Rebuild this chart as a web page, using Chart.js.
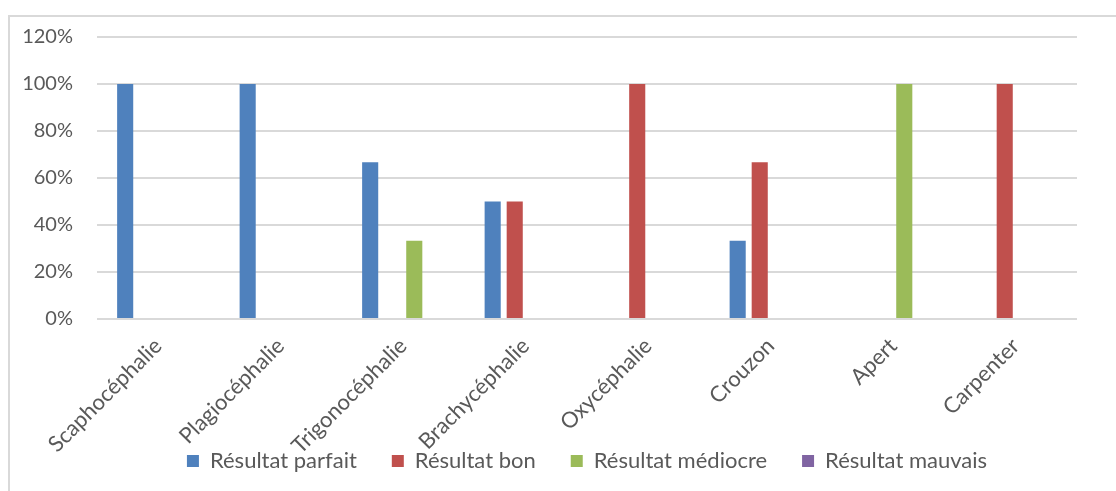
<!DOCTYPE html>
<html>
<head>
<meta charset="utf-8">
<script src="https://cdn.jsdelivr.net/npm/chart.js@4"></script>
<style>
    body { margin: 0; background: #fff; }
    #frame {
        position: absolute; left: 8px; top: 15px; width: 1200px; height: 600px;
        border: 2px solid #d9d9d9; box-sizing: border-box;
    }
    #wrap { position: absolute; left: 0; top: 0; width: 1116px; height: 491px; }
</style>
</head>
<body>
<div id="frame"></div>
<div id="wrap"><canvas id="chart"></canvas></div>
<script>
const categories = ["Scaphocéphalie", "Plagiocéphalie", "Trigonocéphalie", "Brachycéphalie",
    "Oxycéphalie", "Crouzon", "Apert", "Carpenter"];
const parfait  = [100, 100, 66.7, 50, 0, 33.3, 0, 0];
const bon      = [0, 0, 0, 50, 100, 66.7, 0, 100];
const mediocre = [0, 0, 33.3, 0, 0, 0, 100, 0];
const mauvais  = [0, 0, 0, 0, 0, 0, 0, 0];
const seriesNames = ["Résultat parfait", "Résultat bon", "Résultat médiocre", "Résultat mauvais"];
const seriesColors = ["#4f81bd", "#c0504d", "#9bbb59", "#8064a2"];

const FONT = "Lato";
const TEXT = "#595959";

const datasets = [parfait, bon, mediocre, mauvais].map((values, i) => ({
    label: seriesNames[i],
    data: values,
    backgroundColor: seriesColors[i],
    borderWidth: 0,
    barPercentage: 0.73,
    categoryPercentage: 0.72
}));

// the x labels run under the legend, as in the original: don't clip them to the axis box
const unclipLabels = {
    id: "unclipLabels",
    afterLayout(chart) {
        chart.scales.x.bottom = chart.height;
    }
};

new Chart(document.getElementById("chart").getContext("2d"), {
    type: "bar",
    data: { labels: categories, datasets },
    plugins: [unclipLabels],
    options: {
        responsive: true,
        maintainAspectRatio: false,
        animation: false,
        layout: { padding: { top: 37, right: 39, left: 0, bottom: 9 } },
        plugins: {
            tooltip: { enabled: false },
            legend: {
                position: "bottom",
                fullSize: false,
                labels: {
                    boxWidth: 12,
                    boxHeight: 12,
                    padding: 35,
                    color: TEXT,
                    font: { family: FONT, size: 22 }
                }
            }
        },
        scales: {
            x: {
                grid: { display: false, drawTicks: false },
                border: { display: false },
                ticks: {
                    color: TEXT,
                    font: { family: FONT, size: 22 },
                    maxRotation: 45,
                    minRotation: 45,
                    autoSkip: false,
                    padding: 14
                },
                afterFit: scale => { scale.height = 96; }
            },
            y: {
                min: 0,
                max: 120,
                grid: { color: "#d9d9d9", lineWidth: 2, drawTicks: false },
                border: { display: false },
                ticks: {
                    stepSize: 20,
                    padding: 24,
                    color: TEXT,
                    font: { family: FONT, size: 20 },
                    callback: v => v + "%"
                },
                afterFit: scale => { scale.width = 97; }
            }
        }
    }
});
</script>
</body>
</html>
